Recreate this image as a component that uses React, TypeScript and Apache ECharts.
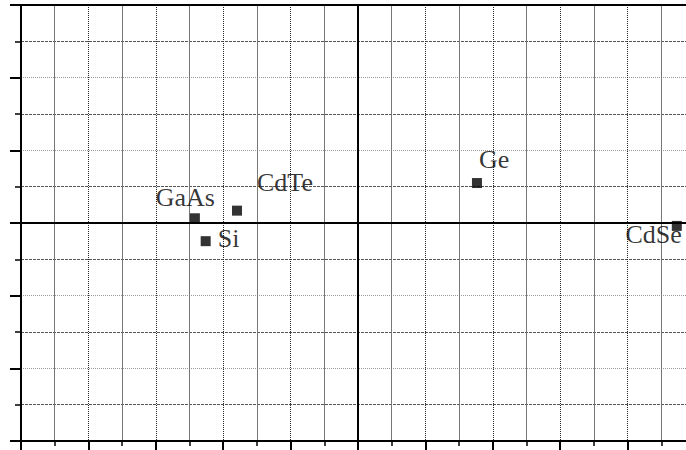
import React, { useEffect, useRef } from "react";
import * as echarts from "echarts";

// Semiconductor positions on the plane
const materials = ["GaAs", "Si", "CdTe", "Ge", "CdSe"];
const xValues = [-4.84, -4.52, -3.59, 3.53, 9.46];
const yValues = [0.13, -0.5, 0.34, 1.1, -0.08];

// Axis ranges (major step 2, one minor division between majors)
const xRange = [-10, 10];
const yRange = [-6, 6];
const majorStep = 2;
// Cross lines through the origin
const originLines = { x: 0, y: 0 };

// Label placement for each material, relative to its marker box
const labelPlacement: { pos: [number, number]; align: "left" | "right" }[] = [
  { pos: [25, -16], align: "right" },
  { pos: [17, 2], align: "left" },
  { pos: [25, -23], align: "left" },
  { pos: [7, -19], align: "left" },
  { pos: [10, 14], align: "right" },
];

export default function App() {
  const ref = useRef<HTMLDivElement>(null);

  useEffect(() => {
    if (!ref.current) return;
    const chart = echarts.init(ref.current, null, { renderer: "svg" });

    const data = materials.map((name, i) => ({
      name,
      value: [xValues[i], yValues[i]],
      label: {
        show: true,
        formatter: name,
        color: "#000",
        position: labelPlacement[i].pos,
        align: labelPlacement[i].align,
        verticalAlign: "middle",
      },
    }));

    chart.setOption({
      animation: false,
      backgroundColor: "#ffffff",
      grid: { left: 21, top: 5, right: 0, bottom: 9 },
      xAxis: [
        {
          type: "value",
          min: xRange[0],
          max: xRange[1],
          interval: majorStep,
          position: "bottom",
          axisLine: { show: true, onZero: false, lineStyle: { color: "#000", width: 2 } },
          axisTick: { show: true, inside: false, length: 9, lineStyle: { color: "#000", width: 2 } },
          minorTick: { show: true, splitNumber: 2, length: 5, lineStyle: { color: "#000", width: 1.5 } },
          axisLabel: { show: false },
          splitLine: { show: true, lineStyle: { color: "#222", width: 1, type: [1, 1] } },
          minorSplitLine: { show: true, lineStyle: { color: "#777", width: 1, type: "solid" } },
        },
        {
          type: "value",
          min: xRange[0],
          max: xRange[1],
          interval: majorStep,
          position: "top",
          axisLine: { show: true, onZero: false, lineStyle: { color: "#000", width: 2 } },
          axisTick: { show: false },
          axisLabel: { show: false },
          splitLine: { show: false },
        },
      ],
      yAxis: [
        {
          type: "value",
          min: yRange[0],
          max: yRange[1],
          interval: majorStep,
          position: "left",
          axisLine: { show: true, onZero: false, lineStyle: { color: "#000", width: 2 } },
          axisTick: { show: true, inside: false, length: 11, lineStyle: { color: "#000", width: 2 } },
          minorTick: { show: true, splitNumber: 2, length: 6, lineStyle: { color: "#000", width: 1.5 } },
          axisLabel: { show: false },
          splitLine: { show: true, lineStyle: { color: "#999", width: 1, type: [1, 1] } },
          minorSplitLine: { show: true, lineStyle: { color: "#555", width: 1, type: [3, 1] } },
        },
      ],
      series: [
        {
          type: "scatter",
          xAxisIndex: 0,
          yAxisIndex: 0,
          symbol: "rect",
          symbolSize: 10,
          itemStyle: { color: "#000" },
          label: {
            color: "#000",
            fontFamily: "Liberation Serif",
            fontSize: 26,
          },
          data,
          markLine: {
            silent: true,
            symbol: "none",
            label: { show: false },
            lineStyle: { color: "#000", width: 2, type: "solid" },
            data: [{ xAxis: originLines.x }, { yAxis: originLines.y }],
          },
        },
      ],
    });

    return () => chart.dispose();
  }, []);

  // The plot runs on past the right edge of the window, so the chart box is
  // wider than the viewport and the overflow is simply cut off.
  return (
    <div
      ref={ref}
      style={{ position: "fixed", left: 0, top: 0, width: 695, height: 450 }}
    />
  );
}
